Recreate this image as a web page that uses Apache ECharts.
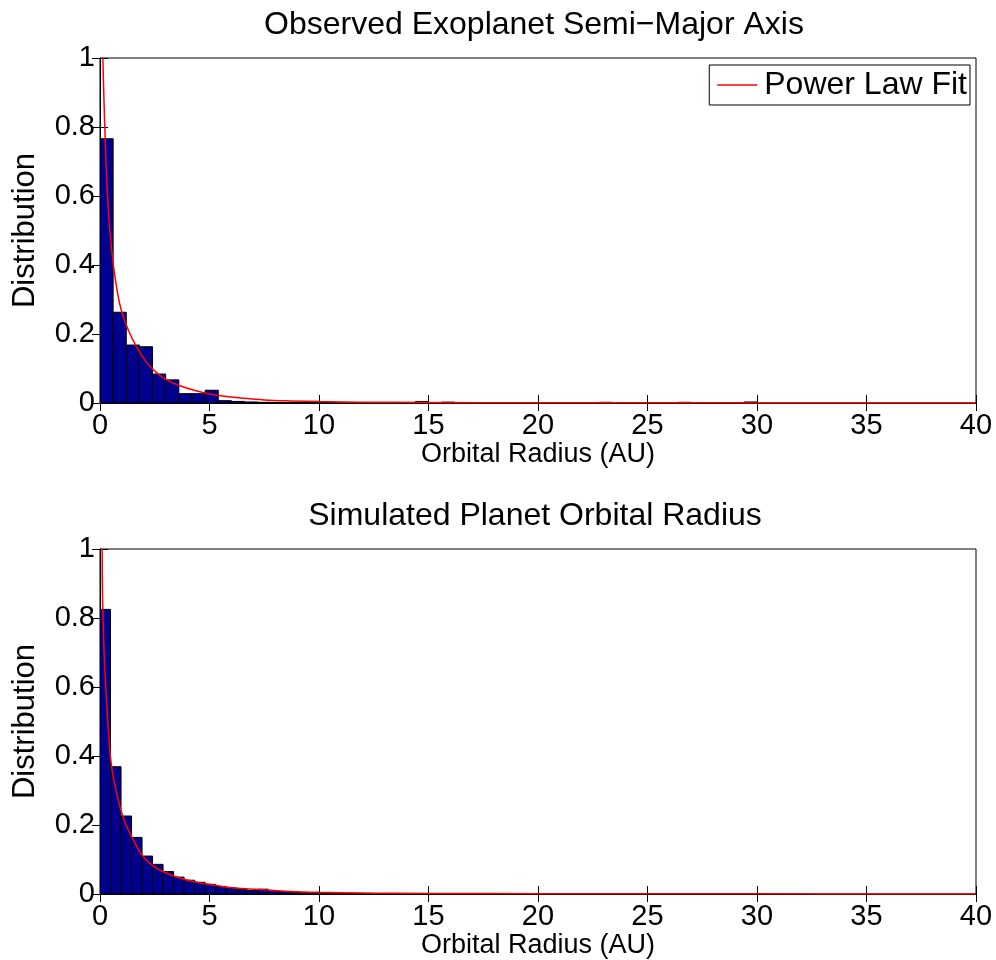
<!DOCTYPE html>
<html>
<head>
<meta charset="utf-8">
<script src="https://cdn.jsdelivr.net/npm/echarts@6/dist/echarts.min.js"></script>
<style>html,body{margin:0;padding:0;background:#fff}#c{width:996px;height:960px}</style>
</head>
<body>
<div id="c"></div>
<script>
// ---- data ----
const xTicks = [0, 5, 10, 15, 20, 25, 30, 35, 40];
const yTicks = [0, 0.2, 0.4, 0.6, 0.8, 1];
const topTitle = 'Observed Exoplanet Semi\u2212Major Axis';
const bottomTitle = 'Simulated Planet Orbital Radius';
const xName = 'Orbital Radius (AU)';
const yName = 'Distribution';
const legendName = 'Power Law Fit';

const topBinWidth = 0.6;
const topHist = [0.766, 0.263, 0.168, 0.163, 0.084, 0.067, 0.027, 0.027, 0.037, 0.0067,
  0.0046, 0.003, 0.002, 0.0015, 0.001, 0.001, 0.0008, 0.0006, 0.0005, 0.0005,
  0.0004, 0.0004, 0.0003, 0.0003, 0.0045, 0.0003, 0.0025, 0.0002, 0.0002, 0.0002,
  0, 0, 0, 0, 0, 0, 0, 0, 0.002, 0,
  0, 0, 0, 0, 0.002, 0, 0, 0, 0, 0.003];

const bottomBinWidth = 0.48;
const bottomHist = [0.825, 0.369, 0.226, 0.164, 0.110, 0.086, 0.065, 0.049, 0.040, 0.034,
  0.028, 0.022, 0.017, 0.013, 0.010, 0.014, 0.010, 0.007, 0.005, 0.004,
  0.003, 0.002, 0.002, 0.0015, 0.0012, 0.002, 0.001, 0.0008, 0.0006, 0.0005,
  0.0004, 0.0004, 0.0003, 0.0003, 0.0002, 0.0002];

const topFit = [[0.13,1.0],[0.18,0.88],[0.24,0.76],[0.33,0.62],[0.45,0.5],[0.61,0.40],[0.8,0.32],
  [0.99,0.265],[1.3,0.21],[1.67,0.163],[2.1,0.12],[2.58,0.088],[3.1,0.065],[3.65,0.05],[4.3,0.037],
  [5.0,0.026],[5.6,0.02],[6.5,0.014],[7.5,0.009],[8.7,0.006],[10,0.004],[12,0.0025],[15,0.0015],
  [20,0.0008],[25,0.0005],[30,0.0003],[35,0.0002],[40,0.00015]];

const bottomFit = [[0.1,1.0],[0.12,0.85],[0.2,0.68],[0.3,0.56],[0.39,0.47],[0.53,0.37],[0.84,0.27],
  [1.1,0.215],[1.37,0.176],[1.98,0.108],[2.5,0.078],[3.05,0.06],[3.6,0.047],[4.27,0.036],[5.0,0.028],
  [5.64,0.021],[6.5,0.016],[7.46,0.012],[8.7,0.0075],[10,0.005],[12,0.003],[15,0.0017],[20,0.0009],
  [30,0.0004],[40,0.0002]];

// ---- chart ----
const FONT = 'Liberation Sans, Arial, Helvetica, sans-serif';
const BAR = '#00008F';

function histData(vals, w) {
  return vals.map((v, i) => [i * w, (i + 1) * w, v]);
}
function renderBin(params, api) {
  const p0 = api.coord([api.value(0), api.value(2)]);
  const p1 = api.coord([api.value(1), 0]);
  return {
    type: 'rect',
    shape: { x: p0[0], y: p0[1], width: p1[0] - p0[0], height: p1[1] - p0[1] },
    style: { fill: BAR, stroke: '#000', lineWidth: 1 }
  };
}
function fmtY(v) { return String(Math.round(v * 10) / 10); }

const grids = [
  { left: 100, right: 20, top: 58, height: 345, show: true, borderColor: '#000', borderWidth: 1 },
  { left: 100, right: 20, top: 549, height: 345, show: true, borderColor: '#000', borderWidth: 1 }
];

function xAxes(gi) {
  return [
    { type: 'value', gridIndex: gi, min: xTicks[0], max: xTicks[xTicks.length - 1], interval: 5,
      position: 'bottom', name: xName, nameLocation: 'middle', nameGap: 36,
      nameTextStyle: { fontFamily: FONT, fontSize: 27, color: '#000' },
      axisLine: { show: true, lineStyle: { color: '#000', width: 1 } },
      axisTick: { show: true, inside: true, length: 8, lineStyle: { color: '#000' } },
      axisLabel: { fontFamily: FONT, fontSize: 29, color: '#000', margin: 8,
        showMinLabel: true, showMaxLabel: true },
      splitLine: { show: false } },
    { type: 'value', gridIndex: gi, min: xTicks[0], max: xTicks[xTicks.length - 1], interval: 5,
      position: 'top',
      axisLine: { show: true, lineStyle: { color: '#000', width: 1 } },
      axisTick: { show: true, inside: true, length: 8, lineStyle: { color: '#000' } },
      axisLabel: { show: false }, splitLine: { show: false } }
  ];
}
function yAxes(gi) {
  return [
    { type: 'value', gridIndex: gi, min: yTicks[0], max: yTicks[yTicks.length - 1], interval: 0.2,
      position: 'left', name: yName, nameLocation: 'middle', nameGap: 59, nameRotate: 90,
      nameTextStyle: { fontFamily: FONT, fontSize: 31, color: '#000' },
      axisLine: { show: true, lineStyle: { color: '#000', width: 1 } },
      axisTick: { show: true, inside: true, length: 8, lineStyle: { color: '#000' } },
      axisLabel: { fontFamily: FONT, fontSize: 29, color: '#000', margin: 5, formatter: fmtY },
      splitLine: { show: false } },
    { type: 'value', gridIndex: gi, min: yTicks[0], max: yTicks[yTicks.length - 1], interval: 0.2,
      position: 'right',
      axisLine: { show: true, lineStyle: { color: '#000', width: 1 } },
      axisTick: { show: true, inside: true, length: 8, lineStyle: { color: '#000' } },
      axisLabel: { show: false }, splitLine: { show: false } }
  ];
}

const option = {
  animation: false,
  backgroundColor: '#fff',
  title: [
    { text: topTitle, left: 529, top: 4, textAlign: 'center',
      textStyle: { fontFamily: FONT, fontSize: 32, fontWeight: 'normal', color: '#000' } },
    { text: bottomTitle, left: 530, top: 495, textAlign: 'center',
      textStyle: { fontFamily: FONT, fontSize: 32, fontWeight: 'normal', color: '#000' } }
  ],
  legend: {
    data: [{ name: legendName, icon: 'rect' }], right: 26, top: 65,
    backgroundColor: '#fff', borderColor: '#000', borderWidth: 1, borderRadius: 0,
    padding: [4, 3, 4, 8], itemWidth: 40, itemHeight: 1.5, itemGap: 5,
    textStyle: { fontFamily: FONT, fontSize: 32, color: '#000', padding: [0, 0, 0, 2] }
  },
  grid: grids,
  xAxis: [...xAxes(0), ...xAxes(1)],
  yAxis: [...yAxes(0), ...yAxes(1)],
  series: [
    { type: 'custom', name: 'obs', xAxisIndex: 0, yAxisIndex: 0, renderItem: renderBin,
      encode: { x: [0, 1], y: 2 }, data: histData(topHist, topBinWidth), clip: true, z: 2 },
    { type: 'line', name: legendName, xAxisIndex: 0, yAxisIndex: 0, data: topFit,
      symbol: 'none', showSymbol: false, smooth: 0.4, clip: true, z: 3,
      lineStyle: { color: '#ff0000', width: 1.5 }, itemStyle: { color: '#ff0000' } },
    { type: 'custom', name: 'sim', xAxisIndex: 2, yAxisIndex: 2, renderItem: renderBin,
      encode: { x: [0, 1], y: 2 }, data: histData(bottomHist, bottomBinWidth), clip: true, z: 2 },
    { type: 'line', name: 'fit2', xAxisIndex: 2, yAxisIndex: 2, data: bottomFit,
      symbol: 'none', showSymbol: false, smooth: 0.4, clip: true, z: 3,
      lineStyle: { color: '#ff0000', width: 1.5 }, itemStyle: { color: '#ff0000' } }
  ]
};

const chart = echarts.init(document.getElementById('c'), null, { renderer: 'canvas' });
chart.setOption(option);
</script>
</body>
</html>
